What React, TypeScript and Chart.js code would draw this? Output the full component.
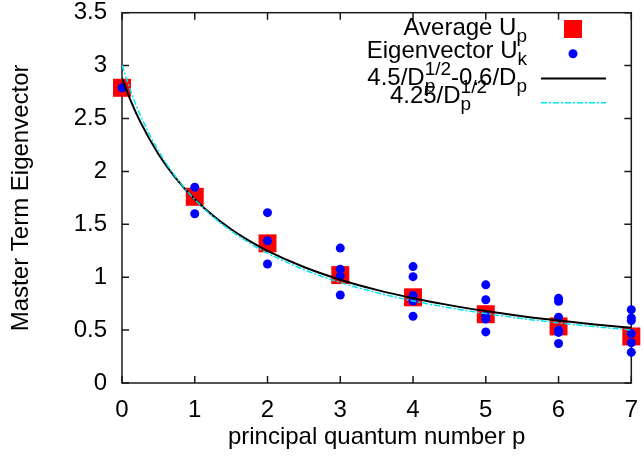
import React, { useEffect, useRef } from "react";
import { Chart, registerables } from "chart.js";

Chart.register(...registerables);

// ---- data ----
const quantumNumbers = [0, 1, 2, 3, 4, 5, 6, 7];
const averageU = [2.79, 1.76, 1.32, 1.02, 0.81, 0.65, 0.535, 0.44];

const eigenP = [0, 1, 1, 2, 2, 2, 3, 3, 3, 3, 4, 4, 4, 4, 4, 5, 5, 5, 5, 5, 6, 6, 6, 6, 6, 6, 7, 7, 7, 7, 7, 7];
const eigenU = [
  2.79,
  1.85, 1.6,
  1.61, 1.345, 1.125,
  1.275, 1.076, 1.01, 0.832,
  1.1, 1.005, 0.826, 0.775, 0.63,
  0.928, 0.787, 0.635, 0.605, 0.483,
  0.8, 0.772, 0.622, 0.5, 0.478, 0.373,
  0.693, 0.615, 0.59, 0.467, 0.38, 0.29,
];

const curveP = [0, 0.125, 0.25, 0.5, 0.75, 1, 1.25, 1.5, 1.75, 2, 2.5, 3, 3.5, 4, 4.5, 5, 5.5, 6, 6.5, 7];
const fitBlack = [2.882, 2.659, 2.47, 2.164, 1.927, 1.737, 1.582, 1.453, 1.343, 1.249, 1.096, 0.976, 0.88, 0.802, 0.736, 0.68, 0.632, 0.591, 0.554, 0.522];
const fitCyan = [3.005, 2.749, 2.534, 2.195, 1.937, 1.735, 1.572, 1.437, 1.323, 1.227, 1.071, 0.95, 0.854, 0.776, 0.711, 0.656, 0.609, 0.568, 0.532, 0.501];

const xTitle = "principal quantum number p";
const yTitle = "Master Term Eigenvector";

type Piece = { t: string; sub?: string; sup?: string };
const legendTexts: Piece[][] = [
  [{ t: "Average U", sub: "p" }],
  [{ t: "Eigenvector U", sub: "k" }],
  [{ t: "4.5/D", sub: "p", sup: "1/2" }, { t: "-0.6/D", sub: "p" }],
  [{ t: "4.25/D", sub: "p", sup: "1/2" }],
];

const FONT = "'Liberation Sans', Arial, Helvetica, sans-serif";
const RED = "#ff0000";
const BLUE = "#0000ff";
const CYAN = "#00e5ee";

const toXY = (xs: number[], ys: number[]) => xs.map((x, i) => ({ x, y: ys[i] }));

function drawRich(ctx: CanvasRenderingContext2D, pieces: Piece[], right: number, base: number) {
  const mainFont = `24px ${FONT}`;
  const scriptFont = `19px ${FONT}`;
  const widths = pieces.map((p) => {
    ctx.font = mainFont;
    const w = ctx.measureText(p.t).width;
    ctx.font = scriptFont;
    const ws = p.sub ? ctx.measureText(p.sub).width : 0;
    const wp = p.sup ? ctx.measureText(p.sup).width : 0;
    return { w, s: Math.max(ws, wp) };
  });
  const total = widths.reduce((a, b) => a + b.w + b.s, 0);
  let x = right - total;
  ctx.fillStyle = "#000";
  ctx.textBaseline = "alphabetic";
  ctx.textAlign = "left";
  pieces.forEach((p, i) => {
    ctx.font = mainFont;
    ctx.fillText(p.t, x, base);
    x += widths[i].w;
    ctx.font = scriptFont;
    if (p.sub) ctx.fillText(p.sub, x, base + 7);
    if (p.sup) ctx.fillText(p.sup, x, base - 10);
    x += widths[i].s;
  });
}

const framePlugin = {
  id: "gnuFrame",
  beforeDatasetsDraw(chart: any) {
    const { ctx, chartArea: a, scales } = chart;
    const xs = scales.x;
    const ys = scales.y;
    ctx.save();
    ctx.strokeStyle = "#1a1a1a";
    ctx.lineWidth = 1.5;
    ctx.strokeRect(a.left, a.top, a.right - a.left, a.bottom - a.top);
    ctx.beginPath();
    const L = 7;
    xs.ticks.forEach((t: any) => {
      const px = xs.getPixelForValue(t.value);
      ctx.moveTo(px, a.bottom);
      ctx.lineTo(px, a.bottom - L);
      ctx.moveTo(px, a.top);
      ctx.lineTo(px, a.top + L);
    });
    ys.ticks.forEach((t: any) => {
      const py = ys.getPixelForValue(t.value);
      ctx.moveTo(a.left, py);
      ctx.lineTo(a.left + L, py);
      ctx.moveTo(a.right, py);
      ctx.lineTo(a.right - L, py);
    });
    ctx.stroke();
    ctx.restore();
  },
  afterDraw(chart: any) {
    const { ctx } = chart;
    ctx.save();
    const bases = [35, 57.5, 84.5, 102.5];
    const rights = [527, 527, 527, 487];
    legendTexts.forEach((p, i) => drawRich(ctx, p, rights[i], bases[i]));
    // samples
    const sx = 573;
    ctx.fillStyle = RED;
    ctx.fillRect(sx - 9, 29 - 9, 18, 18);
    ctx.fillStyle = BLUE;
    ctx.beginPath();
    ctx.arc(sx, 53.7, 4.5, 0, Math.PI * 2);
    ctx.fill();
    ctx.strokeStyle = "#000";
    ctx.lineWidth = 2;
    ctx.beginPath();
    ctx.moveTo(541, 78.5);
    ctx.lineTo(606, 78.5);
    ctx.stroke();
    ctx.strokeStyle = CYAN;
    ctx.lineWidth = 1.5;
    ctx.setLineDash([6, 2, 2, 2]);
    ctx.beginPath();
    ctx.moveTo(541, 102.7);
    ctx.lineTo(606, 102.7);
    ctx.stroke();
    ctx.restore();
  },
};

export default function App() {
  const ref = useRef<HTMLCanvasElement | null>(null);
  useEffect(() => {
    document.body.style.margin = "0";
    const canvas = ref.current;
    if (!canvas) return;
    Chart.defaults.color = "#000";
    const chart = new Chart(canvas, {
      type: "scatter",
      data: {
        datasets: [
          {
            label: "Average",
            data: toXY(quantumNumbers, averageU),
            pointStyle: "rect",
            pointRadius: 12.7,
            pointHoverRadius: 12.7,
            backgroundColor: RED,
            borderWidth: 0,
            order: 4,
            clip: false as any,
          },
          {
            label: "Eigenvector",
            data: toXY(eigenP, eigenU),
            pointStyle: "circle",
            pointRadius: 4.5,
            backgroundColor: BLUE,
            borderWidth: 0,
            order: 3,
            clip: false as any,
          },
          {
            label: "fit black",
            data: toXY(curveP, fitBlack),
            showLine: true,
            pointRadius: 0,
            borderColor: "#000",
            borderWidth: 2,
            cubicInterpolationMode: "monotone",
            order: 2,
          } as any,
          {
            label: "fit cyan",
            data: toXY(curveP, fitCyan),
            showLine: true,
            pointRadius: 0,
            borderColor: CYAN,
            borderWidth: 1.5,
            borderDash: [6, 2, 2, 2],
            cubicInterpolationMode: "monotone",
            order: 1,
          } as any,
        ],
      },
      options: {
        animation: false,
        responsive: false,
        maintainAspectRatio: false,
        layout: { padding: { left: 0, top: 10, right: 9, bottom: 0 } },
        plugins: { legend: { display: false }, tooltip: { enabled: false } },
        scales: {
          x: {
            type: "linear",
            min: 0,
            max: 7,
            grid: { display: false, drawTicks: false },
            border: { display: false },
            ticks: {
              stepSize: 1,
              padding: 13,
              font: { family: FONT, size: 24 },
              color: "#000",
              callback: (v: any) => String(Number(v)),
            },
            title: {
              display: true,
              text: xTitle,
              font: { family: FONT, size: 24 },
              color: "#000",
              padding: { top: 0, bottom: 12 },
            },
            afterFit: (s: any) => {
              s.height = 81;
              s.paddingLeft = 0;
              s.paddingRight = 0;
            },
          },
          y: {
            type: "linear",
            min: 0,
            max: 3.5,
            grid: { display: false, drawTicks: false },
            border: { display: false },
            ticks: {
              stepSize: 0.5,
              padding: 15,
              font: { family: FONT, size: 24 },
              color: "#000",
              callback: (v: any) => String(Number(v)),
            },
            title: {
              display: true,
              text: yTitle,
              font: { family: FONT, size: 24 },
              color: "#000",
              padding: { top: 7, bottom: 0 },
            },
            afterFit: (s: any) => {
              s.width = 122;
              s.paddingTop = 0;
              s.paddingBottom = 0;
            },
          },
        },
      },
      plugins: [framePlugin],
    });
    return () => chart.destroy();
  }, []);
  return (
    <div style={{ width: 644, height: 464, background: "#fff" }}>
      <canvas ref={ref} width={644} height={464} style={{ display: "block" }} />
    </div>
  );
}
